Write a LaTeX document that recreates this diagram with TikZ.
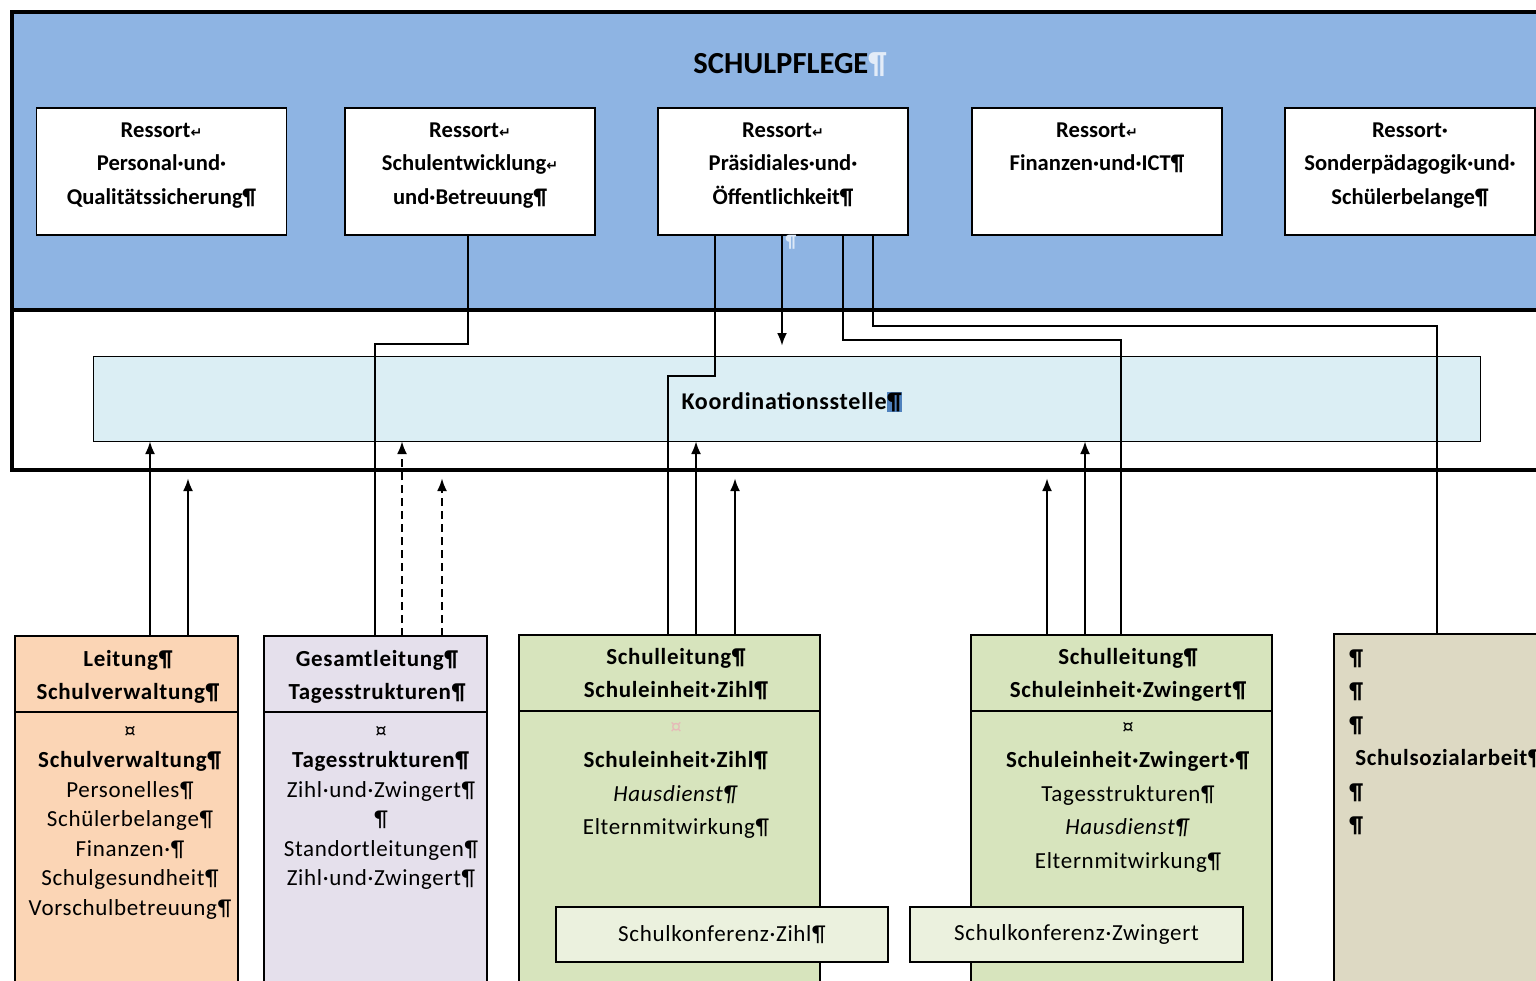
\documentclass[tikz,border=0pt]{standalone}
\usepackage{fontspec}
\setmainfont{Carlito}
\newfontfamily\breitfont[LetterSpace=3.0]{Carlito}
\newfontfamily\symfont{DejaVu Sans}
\usepackage{xcolor}
\usetikzlibrary{shapes,arrows,arrows.meta,positioning}

\definecolor{pflegeblau}{RGB}{142,180,227}
\definecolor{koordblau}{RGB}{219,238,244}
\definecolor{pfirsich}{RGB}{251,213,181}
\definecolor{lavendel}{RGB}{229,224,236}
\definecolor{gruen}{RGB}{215,228,189}
\definecolor{hellgruen}{RGB}{235,241,222}
\definecolor{sand}{RGB}{221,217,195}
\definecolor{markblau}{RGB}{79,129,189}
\definecolor{zellrot}{RGB}{230,185,184}

\tikzstyle{line} = [draw, -{Latex[length=6.5pt,width=5pt]}, line width=1.3pt]
\tikzstyle{conn} = [draw, line width=1.3pt]
\tikzstyle{ressort} = [draw, fill=white, line width=0.6pt, minimum width=125pt, minimum height=63.5pt, inner sep=0pt, outer sep=0pt]
\tikzstyle{einheit} = [draw, line width=0.6pt, anchor=north west, inner sep=0pt, outer sep=0pt]
\tikzstyle{rtext} = [font=\bfseries\fontsize{11.3}{16.75}\selectfont, align=center, anchor=north, inner sep=0pt]
\tikzstyle{ktitel} = [font=\breitfont\bfseries\fontsize{11.5}{16.5}\selectfont, align=center, anchor=north, inner sep=0pt]
\tikzstyle{kliste} = [font=\breitfont\fontsize{11.5}{14.75}\selectfont, align=center, anchor=north, inner sep=0pt]
\tikzstyle{gliste} = [font=\breitfont\fontsize{11.5}{16.75}\selectfont, align=center, anchor=north, inner sep=0pt]

\newcommand{\umbr}{{\symfont\fontsize{7}{7}\selectfont ↵}}

\begin{document}
\begin{tikzpicture}[x=0.5pt,y=-0.5pt]

\fill[white] (0,0) rectangle (1536,980);
\useasboundingbox (0,0) rectangle (1536,980);
\clip (0,0) rectangle (1536,980);

%\draw[help lines] (0,0) grid[step=100] (1536,980);

% Schulpflege
\node[einheit, fill=pflegeblau, line width=2pt, minimum width=774pt, minimum height=149pt] (pflege) at (12,12) {};
\node[einheit, fill=white, line width=2pt, minimum width=774pt, minimum height=80pt] (band) at (12,310) {};

\node[font=\bfseries\fontsize{15.3}{18}\selectfont, inner sep=0pt] (titel) at (790,65) {SCHULPFLEGE\textcolor{white!75!pflegeblau}{¶}};

\node[ressort] (r1) at (161.5,171.5) {};
\node[ressort] (r2) at (470,171.5) {};
\node[ressort] (r3) at (783,171.5) {};
\node[ressort] (r4) at (1097,171.5) {};
\node[ressort] (r5) at (1410,171.5) {};

\node[rtext] (t1) at (161.5,113.5) {\strut Ressort\umbr\\Personal·und·\\Qualitätssicherung¶};
\node[rtext] (t2) at (470,113.5) {\strut Ressort\umbr\\Schulentwicklung\umbr\\und·Betreuung¶};
\node[rtext] (t3) at (783,113.5) {\strut Ressort\umbr\\Präsidiales·und·\\Öffentlichkeit¶};
\node[rtext] (t4) at (1097,113.5) {\strut Ressort\umbr\\Finanzen·und·ICT¶};
\node[rtext] (t5) at (1410,113.5) {\strut Ressort·\\Sonderpädagogik·und·\\Schülerbelange¶};

\node[font=\bfseries\fontsize{9}{9}\selectfont, text=white!70!pflegeblau, inner sep=0pt] (leer) at (791,242) {¶};

% Koordinationsstelle
\node[draw, fill=koordblau, line width=0.5pt, minimum width=693.5pt, minimum height=42.5pt, inner sep=0pt, outer sep=0pt] (kst) at (786.5,398.5) {};
\node[font=\breitfont\bfseries\fontsize{12}{14}\selectfont, inner sep=0pt] (ktext) at (792,402) {Koordinationsstelle{\setlength\fboxsep{0.4pt}\colorbox{markblau}{¶}}};

% Einheiten
\node[einheit, fill=pfirsich, minimum width=111.5pt, minimum height=190pt] (lsv) at (15,636) {};
\node[einheit, fill=lavendel, minimum width=111.5pt, minimum height=190pt] (gts) at (264,636) {};
\node[einheit, fill=gruen, minimum width=150.5pt, minimum height=190pt] (szi) at (519,635) {};
\node[einheit, fill=gruen, minimum width=150.5pt, minimum height=190pt] (szw) at (971,635) {};
\node[einheit, fill=sand, minimum width=120pt, minimum height=190pt] (ssa) at (1334,634) {};

\draw[line width=0.6pt] (lsv.west |- 0,712) -- (lsv.east |- 0,712);
\draw[line width=0.6pt] (gts.west |- 0,712) -- (gts.east |- 0,712);
\draw[line width=0.6pt] (szi.west |- 0,711) -- (szi.east |- 0,711);
\draw[line width=0.6pt] (szw.west |- 0,711) -- (szw.east |- 0,711);

\node[ktitel] (lsvkopf) at (128,643) {\strut Leitung¶\\Schulverwaltung¶};
\node[kliste] (lsvliste) at (130,717) {\strut ¤\\\textbf{Schulverwaltung¶}\\Personelles¶\\Schülerbelange¶\\Finanzen·¶\\Schulgesundheit¶\\Vorschulbetreuung¶};

\node[ktitel] (gtskopf) at (377,643) {\strut Gesamtleitung¶\\Tagesstrukturen¶};
\node[kliste] (gtsliste) at (381,717) {\strut ¤\\\textbf{Tagesstrukturen¶}\\Zihl·und·Zwingert¶\\¶\\Standortleitungen¶\\Zihl·und·Zwingert¶};

\node[ktitel] (szikopf) at (676,641) {\strut Schulleitung¶\\Schuleinheit·Zihl¶};
\node[gliste] (sziliste) at (676,710.5) {\strut \textcolor{zellrot}{¤}\\\textbf{Schuleinheit·Zihl¶}\\\textit{Hausdienst¶}\\Elternmitwirkung¶};

\node[ktitel] (szwkopf) at (1128,641) {\strut Schulleitung¶\\Schuleinheit·Zwingert¶};
\node[gliste] (szwliste) at (1128,710.5) {\strut ¤\\\textbf{Schuleinheit·Zwingert·¶}\\Tagesstrukturen¶\\\textit{Hausdienst¶}\\Elternmitwirkung¶};

\node[gliste, anchor=north west, align=left] (ssaliste) at (1349,641.5) {\strut\textbf{¶}\\\textbf{¶}\\\textbf{¶}\\\textbf{ Schulsozialarbeit¶}\\\textbf{¶}\\\textbf{¶}};

% Schulkonferenzen
\node[einheit, fill=hellgruen, minimum width=166pt, minimum height=27.5pt, font=\breitfont\fontsize{11.5}{14}\selectfont] (skzi) at (556,907) {Schulkonferenz·Zihl¶};
\node[einheit, fill=hellgruen, minimum width=166.5pt, minimum height=27.5pt, font=\breitfont\fontsize{11.5}{14}\selectfont] (skzw) at (910,907) {Schulkonferenz·Zwingert};

% Verbindungen
\draw[conn] (r2.south -| 468,0) |- (375,344) -- (gts.north -| 375,0);
\draw[conn] (r3.south -| 715,0) |- (668,376) -- (szi.north -| 668,0);
\draw[line, shorten >=5pt] (r3.south -| 782,0) -- (kst.north -| 782,0);
\draw[conn] (r3.south -| 843,0) |- (1121,340) -- (szw.north -| 1121,0);
\draw[conn] (r3.south -| 873,0) |- (1437,326) -- (ssa.north -| 1437,0);

\draw[line] (lsv.north -| 150,0) -- (kst.south -| 150,0);
\draw[line, shorten >=4pt] (lsv.north -| 188,0) -- (band.south -| 188,0);
\draw[line, dash pattern=on 4pt off 2.5pt] (gts.north -| 402,0) -- (kst.south -| 402,0);
\draw[line, dash pattern=on 4pt off 2.5pt, shorten >=4pt] (gts.north -| 442,0) -- (band.south -| 442,0);
\draw[line] (szi.north -| 696,0) -- (kst.south -| 696,0);
\draw[line, shorten >=4pt] (szi.north -| 735,0) -- (band.south -| 735,0);
\draw[line] (szw.north -| 1085,0) -- (kst.south -| 1085,0);
\draw[line, shorten >=4pt] (szw.north -| 1047,0) -- (band.south -| 1047,0);

\end{tikzpicture}
\end{document}
